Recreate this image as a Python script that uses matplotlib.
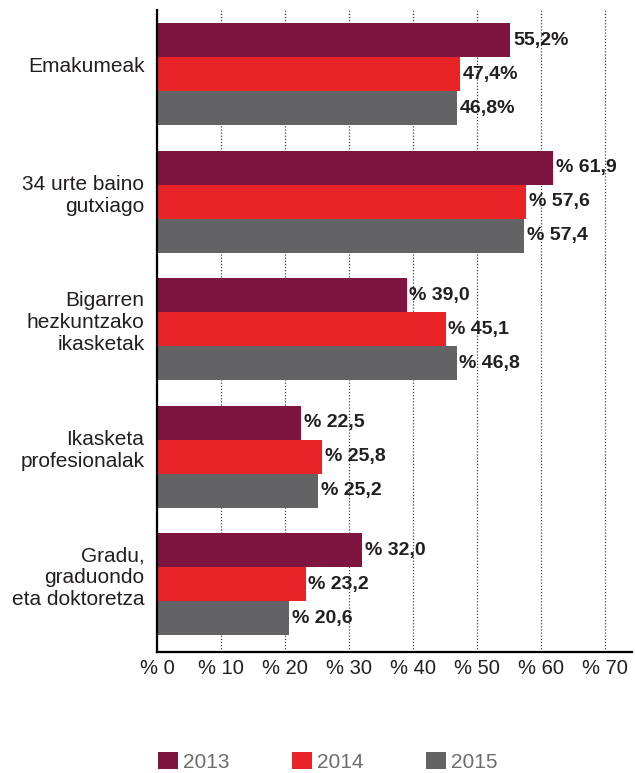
import numpy as np
import matplotlib.pyplot as plt
from matplotlib.patches import Patch
from matplotlib.transforms import ScaledTranslation

categories = [
    "Emakumeak",
    "34 urte baino\ngutxiago",
    "Bigarren\nhezkuntzako\nikasketak",
    "Ikasketa\nprofesionalak",
    "Gradu,\ngraduondo\neta doktoretza",
]
years = ["2013", "2014", "2015"]
v2013 = [55.2, 61.9, 39.0, 22.5, 32.0]
v2014 = [47.4, 57.6, 45.1, 25.8, 23.2]
v2015 = [46.8, 57.4, 46.8, 25.2, 20.6]
xticks = [0, 10, 20, 30, 40, 50, 60, 70]

colors = ["#7E1540", "#E82428", "#636365"]
txt = "#231F20"

plt.rcParams["font.family"] = ["Liberation Sans", "DejaVu Sans"]

fig = plt.figure(figsize=(6.35, 7.73), dpi=100, facecolor="w")
ax = fig.add_axes([157 / 635, 121 / 773, 475 / 635, 642 / 773])

y = np.arange(len(categories))
h = 0.8 / 3
series = [v2013, v2014, v2015]
for i, vals in enumerate(series):
    pos = y - h + i * h
    ax.barh(pos, vals, height=h, color=colors[i], zorder=2)
    for j, v in enumerate(vals):
        s = f"{v:.1f}".replace(".", ",")
        lab = s + "%" if j == 0 else "% " + s
        ax.annotate(lab, (v, pos[j]), xytext=(2, 0), textcoords="offset points",
                    ha="left", va="center", fontsize=14, fontweight="bold", color=txt)

ax.set_xlim(0, 74.2)
ax.set_ylim(len(categories) - 1 + 0.533, -0.502)
ax.set_xticks(xticks)
ax.set_xticklabels(["% " + str(t) for t in xticks])
ax.set_yticks(y)
ax.set_yticklabels(categories)
ax.tick_params(axis="x", length=0, pad=5, labelsize=14.5, labelcolor=txt)
ax.tick_params(axis="y", length=0, pad=9, labelsize=15, labelcolor=txt)
# labels sit a little above the group centre in the original
shift = ScaledTranslation(0, 7 / 72, fig.dpi_scale_trans)
for lab in ax.get_yticklabels():
    lab.set_transform(lab.get_transform() + shift)
ax.xaxis.grid(True, linestyle=(0, (1, 1.5)), color="#444444", linewidth=0.9, zorder=0)
ax.set_axisbelow(True)
for s in ["top", "right"]:
    ax.spines[s].set_visible(False)
ax.spines["left"].set_linewidth(1.6)
ax.spines["bottom"].set_linewidth(1.6)
ax.spines["left"].set_zorder(3)

handles = [Patch(facecolor=c, edgecolor="none") for c in colors]
fig.legend(handles, years, loc="center left", bbox_to_anchor=(139 / 635, 11 / 773),
           ncol=3, frameon=False, fontsize=15, handlelength=0.95, handleheight=0.9,
           handletextpad=0.25, columnspacing=3.0, labelcolor="#6D6D6D")

plt.savefig("out.png", dpi=100, facecolor="w")
